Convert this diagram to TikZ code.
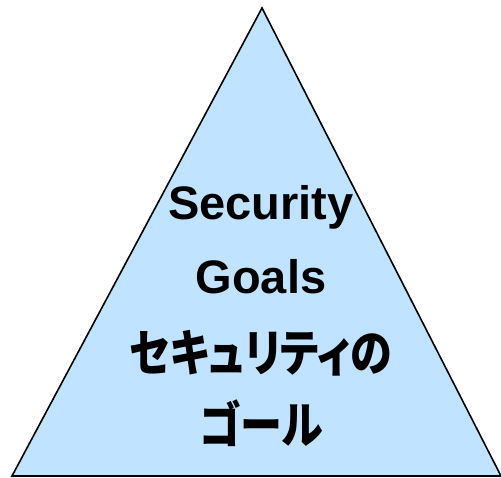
\documentclass[tikz,border=0pt]{standalone}
\usepackage{fontspec}
\usepackage{graphicx}
\setmainfont{Liberation Sans}
\newfontfamily\cjk[RawFeature=+palt]{Noto Sans CJK JP}
\definecolor{trifill}{RGB}{192,228,255}
\newcommand{\jtext}[1]{\scalebox{0.84}[1]{#1}}
\begin{document}
\begin{tikzpicture}[x=1pt,y=-1pt,
  lbl/.style={anchor=base,inner sep=0pt,font=\fontsize{47}{47}\selectfont\bfseries},
  jlbl/.style={anchor=base,inner sep=0pt,font=\fontsize{50}{50}\selectfont\cjk\bfseries}]
\useasboundingbox (0,0) rectangle (501,477);
\draw[fill=trifill,line width=1.6pt,line join=miter] (262,8) -- (501,476) -- (12,476) -- cycle;
\node[lbl] (t1) at (261,219) {Security};
\node[lbl] (t2) at (261,293) {Goals};
\node[jlbl] (t3) at (261,371) {\jtext{セキュリティの}};
\node[jlbl] (t4) at (261,443) {\jtext{ゴール}};
\end{tikzpicture}
\end{document}
